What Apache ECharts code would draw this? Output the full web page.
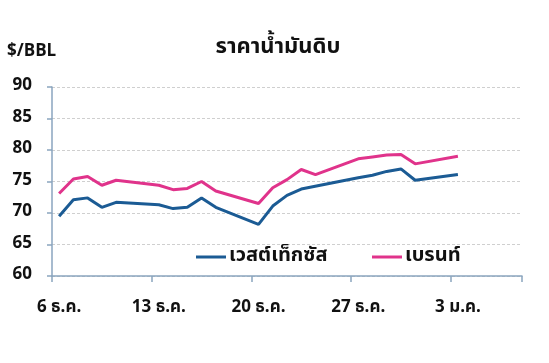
<!DOCTYPE html>
<html>
<head>
<meta charset="utf-8">
<script src="https://cdn.jsdelivr.net/npm/echarts@6/dist/echarts.min.js"></script>
<style>
html,body{margin:0;padding:0;background:#fff;}
#c{width:549px;height:363px;}
</style>
</head>
<body>
<div id="c"></div>
<script>
var categories = ["6 ธ.ค.","7 ธ.ค.","8 ธ.ค.","9 ธ.ค.","10 ธ.ค.","11 ธ.ค.","12 ธ.ค.",
  "13 ธ.ค.","14 ธ.ค.","15 ธ.ค.","16 ธ.ค.","17 ธ.ค.","18 ธ.ค.","19 ธ.ค.",
  "20 ธ.ค.","21 ธ.ค.","22 ธ.ค.","23 ธ.ค.","24 ธ.ค.","25 ธ.ค.","26 ธ.ค.",
  "27 ธ.ค.","28 ธ.ค.","29 ธ.ค.","30 ธ.ค.","31 ธ.ค.","1 ม.ค.","2 ม.ค.",
  "3 ม.ค.","4 ม.ค.","5 ม.ค.","6 ม.ค.","7 ม.ค."];
var wti = [69.5,72.1,72.4,70.9,71.7,null,null,
  71.3,70.7,70.9,72.4,70.9,null,null,
  68.2,71.1,72.8,73.8,null,null,null,
  75.6,76.0,76.6,77.0,75.2,null,null,
  76.1,null,null,null,null];
var brent = [73.1,75.4,75.8,74.4,75.2,null,null,
  74.4,73.7,73.9,75.0,73.5,null,null,
  71.5,74.0,75.3,76.9,76.1,null,null,
  78.6,78.9,79.2,79.3,77.8,null,null,
  79.0,null,null,null,null];
var seriesNames = ["เวสต์เท็กซัส","เบรนท์"];
var titleText = "ราคาน้ำมันดิบ";
var unitText = "$/BBL";

var FONT = "'Noto Sans Thai','Noto Sans','Liberation Sans',sans-serif";
var BLUE = '#1b5b94';
var PINK = '#e0338b';
var AXIS = '#8aa5bf';

var chart = echarts.init(document.getElementById('c'), null, {renderer:'canvas'});
chart.setOption({
  animation:false,
  backgroundColor:'#ffffff',
  title:[
    {text:titleText, left:278, top:38, textAlign:'center', padding:0,
     textStyle:{fontFamily:FONT, fontSize:22, fontWeight:'bold', color:'#111'}},
    {text:unitText, left:7, top:44, padding:0,
     textStyle:{fontFamily:FONT, fontSize:17, fontWeight:'bold', color:'#111'}}
  ],
  legend:[
    {data:[seriesNames[0]], left:196, top:247, padding:0, itemWidth:30, itemHeight:3, icon:'rect',
     textStyle:{fontFamily:FONT, fontSize:20, fontWeight:'bold', color:'#111', padding:[0,0,0,-2]}},
    {data:[seriesNames[1]], left:372, top:247, padding:0, itemWidth:30, itemHeight:3, icon:'rect',
     textStyle:{fontFamily:FONT, fontSize:20, fontWeight:'bold', color:'#111', padding:[0,0,0,-2]}}
  ],
  grid:{left:52, right:27, top:87, bottom:87, containLabel:false},
  xAxis:{
    type:'category', data:categories, boundaryGap:true,
    axisLine:{lineStyle:{color:AXIS, width:1.5}},
    axisTick:{show:true, interval:6, length:6, lineStyle:{color:AXIS, width:1.5}},
    axisLabel:{interval:6, margin:24, fontFamily:FONT, fontSize:17, fontWeight:'bold', color:'#111'},
    splitLine:{show:false}
  },
  yAxis:{
    type:'value', min:60, max:90, interval:5,
    axisLine:{show:true, lineStyle:{color:AXIS, width:1.5}},
    axisTick:{show:true, length:5, lineStyle:{color:AXIS, width:1.5}},
    axisLabel:{margin:20, fontFamily:FONT, fontSize:17, fontWeight:'bold', color:'#111'},
    splitLine:{show:true, lineStyle:{color:'#cfcfcf', type:[3,2], width:1}}
  },
  series:[
    {name:seriesNames[0], type:'line', data:wti, connectNulls:true, showSymbol:false, symbol:'none',
     lineStyle:{color:BLUE, width:3}, itemStyle:{color:BLUE}},
    {name:seriesNames[1], type:'line', data:brent, connectNulls:true, showSymbol:false, symbol:'none',
     lineStyle:{color:PINK, width:3}, itemStyle:{color:PINK}}
  ]
});
</script>
</body>
</html>
